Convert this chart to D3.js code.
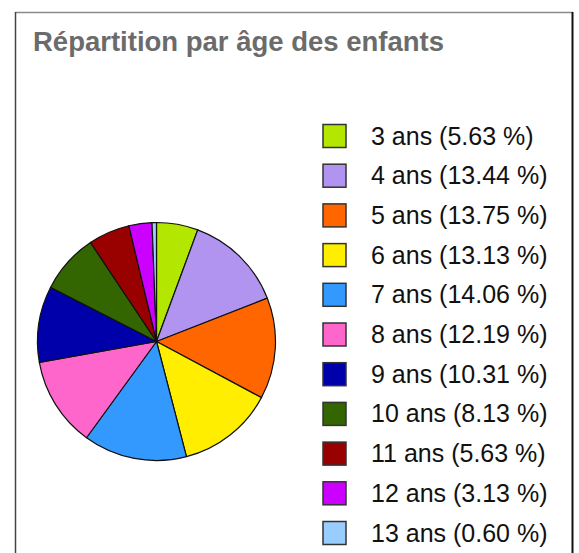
<!DOCTYPE html>
<html>
<head>
<meta charset="utf-8">
<script src="https://cdn.jsdelivr.net/npm/d3@7"></script>
<style>
body { margin: 0; background: #fff; }
</style>
</head>
<body>
<script>
var title = 'Répartition par âge des enfants';
var ages = ['3 ans', '4 ans', '5 ans', '6 ans', '7 ans', '8 ans', '9 ans', '10 ans', '11 ans', '12 ans', '13 ans'];
var pct = [5.63, 13.44, 13.75, 13.13, 14.06, 12.19, 10.31, 8.13, 5.63, 3.13, 0.60];
var colors = ['#b3e600', '#b094f0', '#ff6600', '#ffee00', '#3399ff', '#ff66cc', '#0000aa', '#336600', '#990000', '#cc00ff', '#99ccff'];

var W = 579, H = 553;
var svg = d3.select('body').append('svg')
   .attr('width', W)
   .attr('height', H);

// frame
svg.append('line').attr('x1', 15).attr('y1', 12.5).attr('x2', 573).attr('y2', 12.5)
   .attr('stroke', '#8a8a8a').attr('stroke-width', 1.5);
svg.append('line').attr('x1', 15.5).attr('y1', 12).attr('x2', 15.5).attr('y2', H)
   .attr('stroke', '#444').attr('stroke-width', 1.5);
svg.append('line').attr('x1', 572.5).attr('y1', 12).attr('x2', 572.5).attr('y2', H)
   .attr('stroke', '#111').attr('stroke-width', 2);

svg.append('text')
   .attr('x', 33)
   .attr('y', 51)
   .attr('font-family', 'Liberation Sans, Arial, sans-serif')
   .attr('font-weight', 'bold')
   .attr('font-size', 27.5)
   .attr('fill', '#6b6b6b')
   .text(title);

// pie
var cx = 156.5, cy = 341.5, r = 119;
var pie = d3.pie().sort(null).value(function(d) { return d; });
var arc = d3.arc().innerRadius(0).outerRadius(r);
var g = svg.append('g').attr('transform', 'translate(' + cx + ',' + cy + ')');
g.selectAll('path.slice')
   .data(pie(pct))
 .enter().append('path')
   .attr('class', 'slice')
   .attr('d', arc)
   .attr('fill', function(d, i) { return colors[i]; })
   .attr('stroke', '#111')
   .attr('stroke-width', 1.2)
   .attr('stroke-linejoin', 'round');

// legend
var y = d3.scaleBand().domain(ages).range([124, 124 + 39.7 * ages.length]);
var lg = svg.selectAll('g.leg')
   .data(ages)
 .enter().append('g')
   .attr('class', 'leg')
   .attr('transform', function(d) { return 'translate(0,' + y(d) + ')'; });
lg.append('rect')
   .attr('x', 323)
   .attr('y', 0.5)
   .attr('width', 23)
   .attr('height', 23)
   .attr('fill', function(d, i) { return colors[i]; })
   .attr('stroke', '#333')
   .attr('stroke-width', 1.5);
lg.append('text')
   .attr('x', 371)
   .attr('y', 20.5)
   .attr('font-family', 'Liberation Sans, Arial, sans-serif')
   .attr('font-size', 25)
   .attr('fill', '#111')
   .text(function(d, i) { return d + ' (' + pct[i].toFixed(2) + ' %)'; });
</script>
</body>
</html>
